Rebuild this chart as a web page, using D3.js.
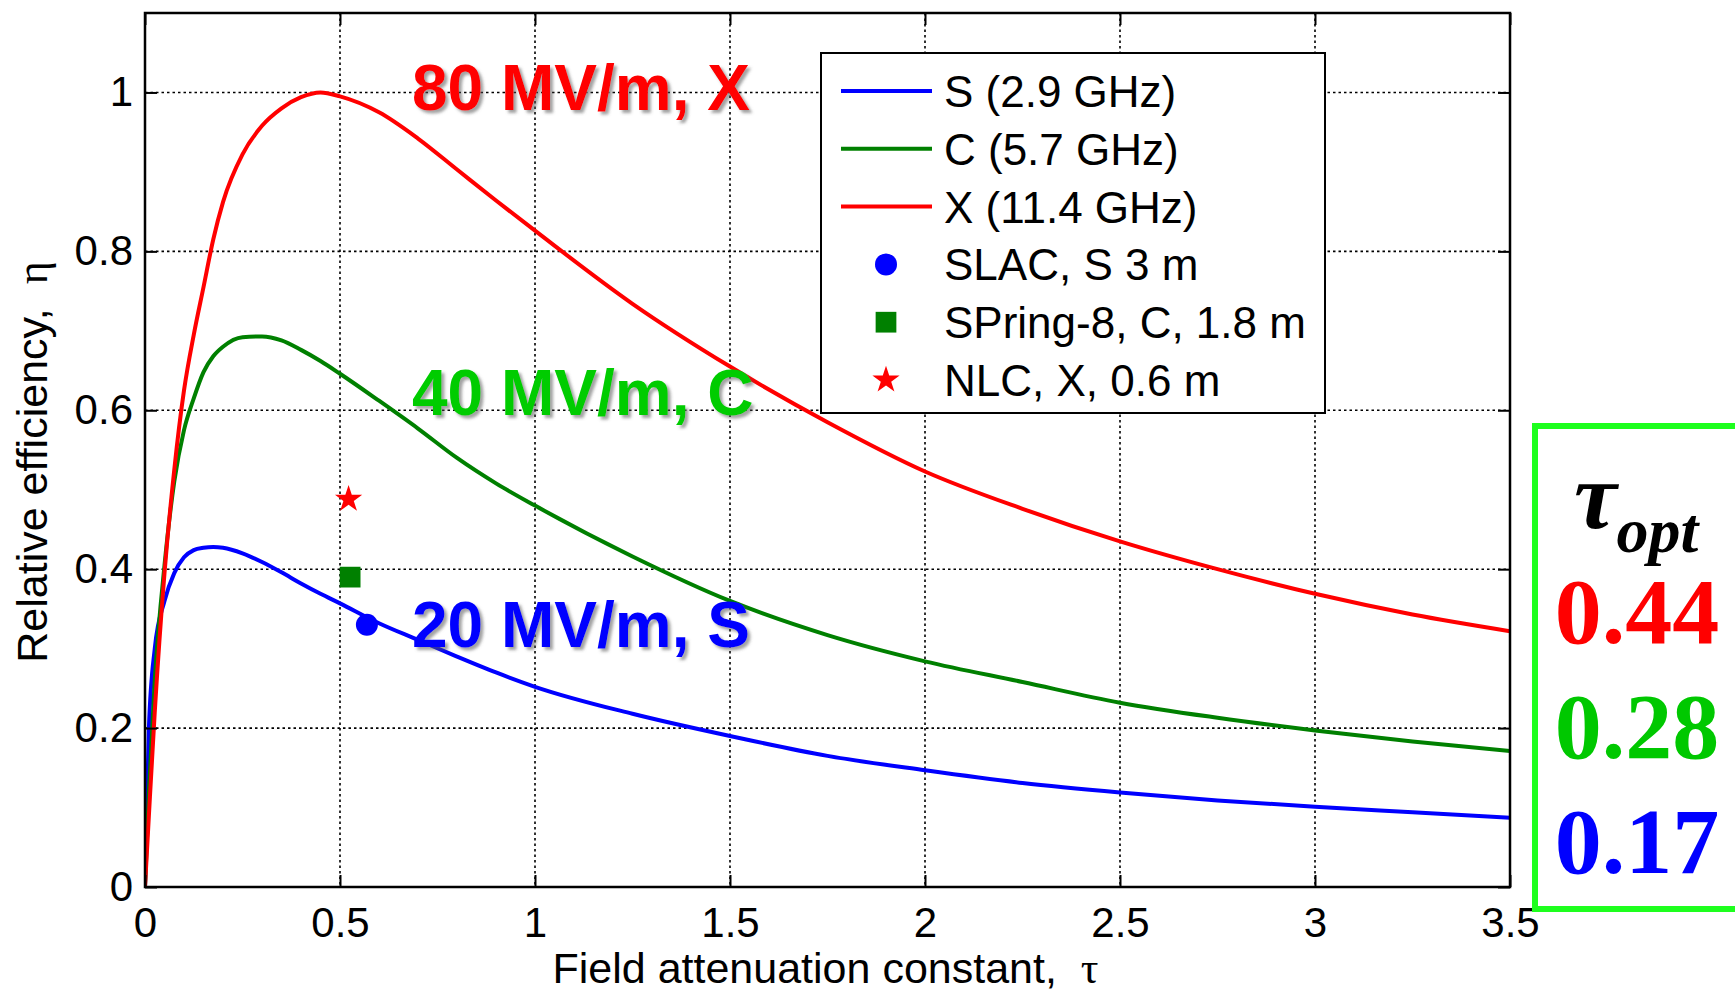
<!DOCTYPE html>
<html>
<head>
<meta charset="utf-8">
<script src="https://cdn.jsdelivr.net/npm/d3@7"></script>
<style>
  body { margin: 0; background: #fff; }
  svg { display: block; }
</style>
</head>
<body>
<svg id="chart"></svg>
<script>
// Relative efficiency vs field attenuation constant
const tau  = [0, 0.01, 0.025, 0.05, 0.075, 0.1, 0.125, 0.15, 0.175, 0.2, 0.25, 0.3, 0.35, 0.4, 0.45, 0.5,
              0.6, 0.7, 0.8, 0.9, 1.0, 1.25, 1.5, 1.75, 2.0, 2.25, 2.5, 2.75, 3.0, 3.25, 3.5];
const etaS = [0, 0.2, 0.3, 0.36, 0.395, 0.415, 0.424, 0.427, 0.428, 0.427, 0.42, 0.409, 0.396, 0.382, 0.369, 0.357,
              0.332, 0.311, 0.29, 0.27, 0.252, 0.218, 0.19, 0.165, 0.147, 0.131, 0.119, 0.109, 0.101, 0.094, 0.087];
const etaC = [0, 0.12, 0.26, 0.405, 0.51, 0.575, 0.615, 0.648, 0.668, 0.68, 0.692, 0.693, 0.688, 0.676, 0.662, 0.646,
              0.612, 0.577, 0.54, 0.508, 0.48, 0.416, 0.36, 0.317, 0.284, 0.258, 0.232, 0.213, 0.197, 0.183, 0.171];
const etaX = [0, 0.09, 0.22, 0.395, 0.525, 0.625, 0.695, 0.755, 0.815, 0.862, 0.922, 0.958, 0.98, 0.994, 1.0, 0.995,
              0.975, 0.942, 0.903, 0.864, 0.826, 0.734, 0.655, 0.585, 0.523, 0.476, 0.435, 0.4, 0.369, 0.343, 0.322];

const seriesNames  = ['S (2.9 GHz)', 'C (5.7 GHz)', 'X (11.4 GHz)'];
const seriesColors = ['#0000ff', '#008000', '#ff0000'];

const pointNames  = ['SLAC, S 3 m', 'SPring-8, C, 1.8 m', 'NLC, X, 0.6 m'];
const pointTau    = [0.569, 0.526, 0.522];
const pointEta    = [0.330, 0.390, 0.488];
const pointShapes = ['circle', 'square', 'star'];

const xTicks = [0, 0.5, 1, 1.5, 2, 2.5, 3, 3.5];
const yTicks = [0, 0.2, 0.4, 0.6, 0.8, 1];

const fieldLabels = ['80 MV/m, X', '40 MV/m, C', '20 MV/m, S'];
const fieldColors = ['#ff0000', '#00cc00', '#0000ff'];
const tauOpt      = ['0.44', '0.28', '0.17'];
const tauOptColors = ['#ff0000', '#00c800', '#0000ff'];

(function() {
    const W = 1735, H = 994;
    const left = 145, right = 1510, top = 13, bottom = 887;
    const sans = '"Liberation Sans", Arial, sans-serif';
    const serif = '"Liberation Serif", "Times New Roman", serif';

    const svg = d3.select('#chart').attr('width', W).attr('height', H);
    svg.append('rect').attr('width', W).attr('height', H).attr('fill', '#fff');

    const defs = svg.append('defs');
    defs.append('clipPath').attr('id', 'plot-clip')
        .append('rect').attr('x', left).attr('y', top)
        .attr('width', right - left).attr('height', bottom - top);
    defs.append('filter').attr('id', 'shadow')
        .attr('x', '-10%').attr('y', '-20%').attr('width', '120%').attr('height', '150%')
        .append('feDropShadow')
        .attr('dx', 3).attr('dy', 3).attr('stdDeviation', 1.6)
        .attr('flood-color', '#555').attr('flood-opacity', 0.55);

    const x = d3.scaleLinear().domain([0, 3.5]).range([left, right]);
    const y = d3.scaleLinear().domain([0, 1.1]).range([bottom, top]);

    // Grid
    const grid = svg.append('g');
    grid.selectAll('.gx').data(xTicks.slice(1, -1)).enter().append('line')
        .attr('x1', d => x(d)).attr('x2', d => x(d))
        .attr('y1', top).attr('y2', bottom);
    grid.selectAll('.gy').data(yTicks.slice(1)).enter().append('line')
        .attr('x1', left).attr('x2', right)
        .attr('y1', d => y(d)).attr('y2', d => y(d));
    grid.selectAll('line')
        .attr('stroke', '#000').attr('stroke-width', 1.6)
        .attr('stroke-dasharray', '2.5,3');

    // Curves
    const series = [etaS, etaC, etaX];
    const line = d3.line()
        .x(d => x(d[0])).y(d => y(d[1]))
        .curve(d3.curveMonotoneX);
    svg.append('g').attr('clip-path', 'url(#plot-clip)')
        .selectAll('path').data(series).enter().append('path')
        .attr('d', s => line(tau.map((t, i) => [t, s[i]])))
        .attr('fill', 'none')
        .attr('stroke', (d, i) => seriesColors[i])
        .attr('stroke-width', 4)
        .attr('stroke-linejoin', 'round');

    // Measured structures
    function marker(sel, shape, color) {
        if (shape === 'circle') {
            sel.append('circle').attr('r', 11).attr('fill', color);
        } else if (shape === 'square') {
            sel.append('path').attr('d', d3.symbol(d3.symbolSquare, 430)()).attr('fill', color);
        } else {
            sel.append('path').attr('d', d3.symbol(d3.symbolStar, 230)()).attr('fill', color);
        }
    }
    pointTau.forEach((t, i) => {
        const g = svg.append('g').attr('transform', `translate(${x(t)},${y(pointEta[i])})`);
        marker(g, pointShapes[i], seriesColors[i]);
    });

    // Gradient annotations
    const annY = [110, 415, 647];
    svg.append('g').selectAll('text').data(fieldLabels).enter().append('text')
        .attr('x', 412).attr('y', (d, i) => annY[i])
        .attr('fill', (d, i) => fieldColors[i])
        .attr('font-family', sans).attr('font-weight', 'bold').attr('font-size', 64)
        .attr('filter', 'url(#shadow)')
        .text(d => d);

    // Axes with inward ticks on all four sides
    function styleAxis(g) {
        g.select('.domain').remove();
        g.selectAll('line').attr('stroke', '#000').attr('stroke-width', 2);
        g.attr('font-family', sans).attr('font-size', 42);
        g.selectAll('text').attr('fill', '#000');
    }
    svg.append('g').attr('transform', `translate(0,${bottom})`)
        .call(d3.axisBottom(x).tickValues(xTicks).tickFormat(d => d)
            .tickSizeInner(-12).tickSizeOuter(0).tickPadding(20))
        .call(styleAxis);
    svg.append('g').attr('transform', `translate(0,${top})`)
        .call(d3.axisTop(x).tickValues(xTicks).tickFormat('')
            .tickSizeInner(-12).tickSizeOuter(0))
        .call(styleAxis);
    svg.append('g').attr('transform', `translate(${left},0)`)
        .call(d3.axisLeft(y).tickValues(yTicks).tickFormat(d => d)
            .tickSizeInner(-12).tickSizeOuter(0).tickPadding(12))
        .call(styleAxis);
    svg.append('g').attr('transform', `translate(${right},0)`)
        .call(d3.axisRight(y).tickValues(yTicks).tickFormat('')
            .tickSizeInner(-12).tickSizeOuter(0))
        .call(styleAxis);

    svg.append('rect')
        .attr('x', left).attr('y', top)
        .attr('width', right - left).attr('height', bottom - top)
        .attr('fill', 'none').attr('stroke', '#000').attr('stroke-width', 2.5);

    // Axis labels
    const xl = svg.append('text')
        .attr('x', (left + right) / 2 - 2).attr('y', 983)
        .attr('text-anchor', 'middle')
        .attr('font-family', sans).attr('font-size', 43)
        .style('white-space', 'pre');
    xl.append('tspan').text('Field attenuation constant,  ');
    xl.append('tspan').attr('font-family', serif).attr('font-size', 44).text('τ');

    const yl = svg.append('text')
        .attr('transform', `translate(47,${(top + bottom) / 2 + 12}) rotate(-90)`)
        .attr('text-anchor', 'middle')
        .attr('font-family', sans).attr('font-size', 43)
        .style('white-space', 'pre');
    yl.append('tspan').text('Relative efficiency,  ');
    yl.append('tspan').attr('font-family', serif).attr('font-size', 44).text('η');

    // Legend
    const lg = svg.append('g');
    lg.append('rect')
        .attr('x', 821).attr('y', 53).attr('width', 504).attr('height', 360)
        .attr('fill', '#fff').attr('stroke', '#000').attr('stroke-width', 2);
    const rowY = i => 91 + i * 57.8;
    seriesNames.forEach((name, i) => {
        lg.append('line')
            .attr('x1', 841).attr('x2', 932)
            .attr('y1', rowY(i)).attr('y2', rowY(i))
            .attr('stroke', seriesColors[i]).attr('stroke-width', 4);
        lg.append('text').attr('x', 944).attr('y', rowY(i) + 16)
            .attr('font-family', sans).attr('font-size', 44).text(name);
    });
    pointNames.forEach((name, i) => {
        const r = rowY(i + 3);
        const g = lg.append('g').attr('transform', `translate(886,${r})`);
        marker(g, pointShapes[i], seriesColors[i]);
        lg.append('text').attr('x', 944).attr('y', r + 16)
            .attr('font-family', sans).attr('font-size', 44).text(name);
    });

    // tau_opt box
    svg.append('rect')
        .attr('x', 1535).attr('y', 426).attr('width', 300).attr('height', 483)
        .attr('fill', 'none').attr('stroke', '#1eff1e').attr('stroke-width', 6);
    const tt = svg.append('text')
        .attr('x', 1574).attr('y', 528)
        .attr('font-family', serif).attr('font-weight', 'bold').attr('font-style', 'italic');
    tt.append('tspan').attr('font-size', 96).text('τ');
    tt.append('tspan').attr('font-size', 64).attr('dy', 24).text('opt');

    const numY = [643, 758, 873];
    svg.append('g').selectAll('text').data(tauOpt).enter().append('text')
        .attr('x', 1637).attr('y', (d, i) => numY[i])
        .attr('text-anchor', 'middle')
        .attr('font-family', serif).attr('font-weight', 'bold').attr('font-size', 94)
        .attr('fill', (d, i) => tauOptColors[i])
        .text(d => d);
})();
</script>
</body>
</html>
